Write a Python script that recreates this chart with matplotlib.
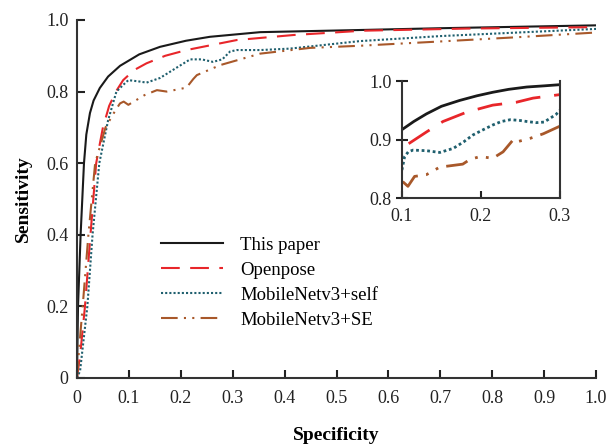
import matplotlib.pyplot as plt

plt.rcParams['font.family'] = ['Liberation Serif', 'DejaVu Serif']

# 본 그래프 데이터
paper_x = [0, 0.001, 0.002, 0.0045, 0.007, 0.0135, 0.018, 0.025, 0.032, 0.044, 0.06, 0.083, 0.12,
           0.16, 0.21, 0.256, 0.353, 0.449, 0.545, 0.7, 0.85, 1.0]
paper_y = [0, 0.1, 0.2, 0.3, 0.4, 0.6, 0.68, 0.74, 0.775, 0.81, 0.842, 0.872, 0.904,
           0.925, 0.942, 0.953, 0.966, 0.969, 0.972, 0.977, 0.981, 0.985]

open_x = [0, 0.0064, 0.0154, 0.026, 0.037, 0.05, 0.062, 0.075, 0.089, 0.11, 0.134, 0.17, 0.211,
          0.308, 0.417, 0.55, 0.75, 1.0]
open_y = [0, 0.068, 0.2, 0.4, 0.6, 0.7, 0.76, 0.8, 0.832, 0.86, 0.879, 0.9, 0.916,
          0.944, 0.958, 0.97, 0.976, 0.98]

self_x = [0, 0.006, 0.02, 0.03, 0.043, 0.06, 0.076, 0.09, 0.099, 0.121, 0.134, 0.16, 0.19,
          0.218, 0.24, 0.262, 0.28, 0.295, 0.308, 0.353, 0.41, 0.449, 0.545, 0.7, 0.85, 1.0]
self_y = [0, 0.02, 0.2, 0.4, 0.6, 0.72, 0.8, 0.82, 0.832, 0.828, 0.825, 0.838, 0.865,
          0.89, 0.89, 0.883, 0.89, 0.912, 0.916, 0.916, 0.92, 0.926, 0.941, 0.955, 0.965, 0.975]

se_x = [0, 0.004, 0.011, 0.022, 0.035, 0.055, 0.075, 0.083, 0.09, 0.099, 0.13, 0.154, 0.173,
        0.211, 0.224, 0.231, 0.276, 0.353, 0.449, 0.545, 0.7, 0.85, 1.0]
se_y = [0, 0.08, 0.2, 0.4, 0.6, 0.7, 0.75, 0.767, 0.772, 0.763, 0.79, 0.804, 0.8,
        0.811, 0.835, 0.846, 0.874, 0.906, 0.922, 0.928, 0.94, 0.952, 0.965]

# 확대 그래프 데이터 (0.1 ~ 0.3)
in_paper_x = [0.1, 0.115, 0.131, 0.15, 0.173, 0.195, 0.215, 0.235, 0.258, 0.28, 0.3]
in_paper_y = [0.917, 0.931, 0.944, 0.957, 0.967, 0.975, 0.981, 0.986, 0.99, 0.992, 0.994]
in_open_x = [0.1085, 0.131, 0.152, 0.182, 0.215, 0.245, 0.266, 0.3]
in_open_y = [0.893, 0.913, 0.931, 0.947, 0.959, 0.964, 0.971, 0.977]
in_self_x = [0.1, 0.1034, 0.108, 0.114, 0.131, 0.148, 0.165, 0.178, 0.19, 0.203, 0.215, 0.226,
             0.237, 0.248, 0.258, 0.27, 0.28, 0.287, 0.295, 0.3]
in_self_y = [0.848, 0.871, 0.879, 0.882, 0.881, 0.878, 0.885, 0.896, 0.908, 0.917, 0.925, 0.931,
             0.934, 0.933, 0.931, 0.929, 0.93, 0.936, 0.943, 0.95]
in_se_x = [0.101, 0.1076, 0.116, 0.131, 0.148, 0.16, 0.177, 0.186, 0.199, 0.215, 0.228, 0.241,
           0.245, 0.262, 0.279, 0.3]
in_se_y = [0.828, 0.82, 0.837, 0.84, 0.853, 0.855, 0.858, 0.866, 0.871, 0.868, 0.879, 0.9,
           0.896, 0.902, 0.91, 0.923]

labels = ['This paper', 'Openpose', 'MobileNetv3+self', 'MobileNetv3+SE']
colors = ['#1a1a1a', '#e8262a', '#1f5f6e', '#a8582a']
styles = ['-', (0, (9, 5)), (0, (1, 1)), (0, (8, 3, 1, 3, 1, 3))]

fig = plt.figure(figsize=(6.09, 4.46), dpi=100)
ax = fig.add_axes([0.1264, 0.1525, 0.8523, 0.8027])

series = [(paper_x, paper_y), (open_x, open_y), (self_x, self_y), (se_x, se_y)]
for (xs, ys), lab, c, ls in zip(series, labels, colors, styles):
    ax.plot(xs, ys, color=c, linestyle=ls, lw=1.5, label=lab)

ax.set_xlim(0, 1.0)
ax.set_ylim(0, 1.0)
ax.set_xticks([i / 10 for i in range(11)])
ax.set_xticklabels(['0'] + ['%.1f' % (i / 10) for i in range(1, 11)])
ax.set_yticks([i / 5 for i in range(6)])
ax.set_yticklabels(['0'] + ['%.1f' % (i / 5) for i in range(1, 6)])
ax.tick_params(direction='in', length=6, width=1.5, labelsize=13, colors='#222222')
ax.tick_params(axis='x', pad=9)
ax.tick_params(axis='y', pad=6)
for s in ['top', 'right']:
    ax.spines[s].set_visible(False)
for s in ['left', 'bottom']:
    ax.spines[s].set_linewidth(1.5)
    ax.spines[s].set_color('#333333')
ax.set_xlabel('Specificity', fontsize=14, fontweight='bold', labelpad=14)
ax.set_ylabel('Sensitivity', fontsize=14, fontweight='bold', labelpad=10)

ax.legend(loc='upper left', bbox_to_anchor=(0.148, 0.415), frameon=False, fontsize=13.5,
          handlelength=3.3, handletextpad=0.9, labelspacing=0.42, borderaxespad=0)

# 확대 그래프
ins = fig.add_axes([0.660, 0.556, 0.2594, 0.262])
in_series = [(in_paper_x, in_paper_y), (in_open_x, in_open_y), (in_self_x, in_self_y), (in_se_x, in_se_y)]
for (xs, ys), c, ls in zip(in_series, colors, styles):
    ins.plot(xs, ys, color=c, linestyle=ls, lw=2)
ins.set_xlim(0.1, 0.3)
ins.set_ylim(0.8, 1.0)
ins.set_xticks([0.1, 0.2, 0.3])
ins.set_yticks([0.8, 0.9, 1.0])
ins.tick_params(axis='x', direction='in', length=5, width=1.5, labelsize=13, colors='#222222', pad=7)
ins.tick_params(axis='y', direction='inout', length=8, width=1.5, labelsize=13, colors='#222222')
ins.spines['top'].set_visible(False)
for s in ['left', 'bottom', 'right']:
    ins.spines[s].set_linewidth(1.5)
    ins.spines[s].set_color('#333333')

fig.savefig('out.png', dpi=100)
